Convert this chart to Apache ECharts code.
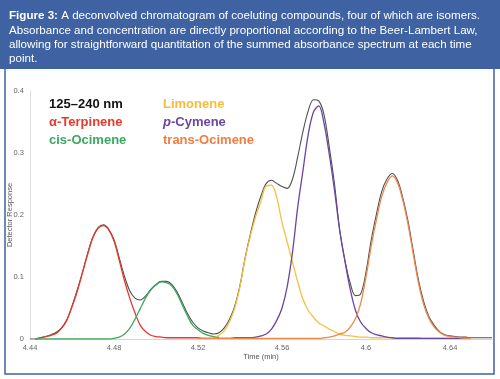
<!DOCTYPE html>
<html>
<head>
<meta charset="utf-8">
<script src="https://cdn.jsdelivr.net/npm/echarts@6/dist/echarts.min.js"></script>
<style>
html,body{margin:0;padding:0;background:#fff;}
#c{width:500px;height:379px;}
</style>
</head>
<body>
<div id="c"></div>
<script>
// Time grid (min)
const times = [4.44,4.4425,4.445,4.4475,4.45,4.4525,4.455,4.4575,4.46,4.4625,4.465,4.4675,4.47,4.4725,4.475,4.4775,4.48,4.4825,4.485,4.4875,4.49,4.4925,4.495,4.4975,4.5,4.5025,4.505,4.5075,4.51,4.5125,4.515,4.5175,4.52,4.5225,4.525,4.5275,4.53,4.5325,4.535,4.5375,4.54,4.5425,4.545,4.5475,4.55,4.5525,4.555,4.5575,4.56,4.5625,4.565,4.5675,4.57,4.5725,4.575,4.5775,4.58,4.5825,4.585,4.5875,4.59,4.5925,4.595,4.5975,4.6,4.6025,4.605,4.6075,4.61,4.6125,4.615,4.6175,4.62,4.6225,4.625,4.6275,4.63,4.6325,4.635,4.6375,4.64,4.6425,4.645,4.6475,4.65,4.6525,4.655,4.6575,4.66];

// Summed signal 125–240 nm
const total = [0.000,0.000,0.002,0.004,0.007,0.011,0.018,0.031,0.053,0.079,0.108,0.139,0.165,0.180,0.184,0.177,0.160,0.131,0.101,0.078,0.066,0.063,0.069,0.080,0.088,0.093,0.093,0.088,0.076,0.059,0.041,0.027,0.018,0.013,0.010,0.008,0.010,0.018,0.032,0.053,0.087,0.132,0.170,0.204,0.231,0.251,0.256,0.251,0.246,0.243,0.258,0.294,0.335,0.368,0.386,0.384,0.362,0.310,0.250,0.175,0.126,0.090,0.070,0.073,0.108,0.160,0.202,0.238,0.258,0.267,0.256,0.228,0.190,0.142,0.095,0.060,0.036,0.022,0.012,0.007,0.005,0.004,0.003,0.003,0.002,0.002,0.002,0.002,0.002];

// alpha-Terpinene (starts at index 1)
const terpineneStart = 1;
const terpinene = [0.000,0.002,0.004,0.006,0.009,0.017,0.030,0.052,0.077,0.107,0.137,0.164,0.179,0.183,0.176,0.158,0.127,0.094,0.066,0.042,0.022,0.012,0.006,0.004,0.003,0.002,0.002,0.002,0.002,0.002,0.002,0.002,0.001,0.001,0.001,0.001];

// cis-Ocimene (starts at index 1)
const cisOcimeneStart = 1;
const cisOcimene = [0.000,0.000,0.000,0.000,0.000,0.000,0.000,0.000,0.000,0.000,0.000,0.000,0.000,0.000,0.000,0.001,0.003,0.008,0.017,0.032,0.049,0.066,0.079,0.087,0.092,0.091,0.086,0.073,0.055,0.037,0.022,0.015,0.009,0.006,0.004,0.003];

// Limonene (starts at index 35)
const limoneneStart = 35;
const limonene = [0.002,0.006,0.013,0.028,0.050,0.085,0.130,0.167,0.198,0.222,0.247,0.248,0.228,0.188,0.156,0.124,0.092,0.064,0.046,0.035,0.026,0.021,0.016,0.012,0.008,0.006,0.005,0.004,0.003,0.003,0.002,0.002,0.002,0.002,0.002,0.002,0.002,0.002,0.002,0.002,0.001,0.001,0.001,0.001,0.001,0.001,0.001,0.001,0.001,0.001];

// p-Cymene (starts at index 35)
const cymeneStart = 35;
const cymene = [0.001,0.001,0.001,0.001,0.002,0.002,0.002,0.002,0.003,0.005,0.008,0.016,0.030,0.050,0.085,0.140,0.213,0.272,0.330,0.366,0.376,0.348,0.298,0.240,0.175,0.125,0.080,0.046,0.027,0.017,0.010,0.007,0.005,0.003,0.002,0.001,0.001,0.001,0.001,0.001,0.001,0.001,0.001,0.001,0.001,0.001,0.001,0.001,0.001,0.001];

// trans-Ocimene (starts at index 32)
const transOcimeneStart = 32;
const transOcimene = [0.001,0.001,0.001,0.001,0.001,0.001,0.001,0.001,0.001,0.001,0.001,0.001,0.001,0.001,0.001,0.001,0.001,0.001,0.001,0.001,0.001,0.001,0.001,0.001,0.002,0.003,0.005,0.008,0.011,0.019,0.033,0.058,0.100,0.150,0.193,0.230,0.252,0.263,0.252,0.224,0.185,0.137,0.090,0.055,0.033,0.019,0.011,0.006,0.004,0.003,0.002,0.001,0.001];

const xTicks = [4.44, 4.48, 4.52, 4.56, 4.6, 4.64];
const yTicks = [0, 0.1, 0.2, 0.3, 0.4];

const legendItems = [
  {name: '125–240 nm', color: '#111111'},
  {name: 'α-Terpinene', color: '#e8392b'},
  {name: 'cis-Ocimene', color: '#3aaa5e'},
  {name: 'Limonene', color: '#f5bd3c'},
  {name: 'p-Cymene', color: '#6b45a3'},
  {name: 'trans-Ocimene', color: '#f07d42'}
];

function pairs(vals, start) {
  return vals.map((v, k) => [times[start + k], v]);
}

const chart = echarts.init(document.getElementById('c'), null, {renderer: 'canvas'});

function lineSeries(name, data, color, width) {
  return {
    name: name, type: 'line', data: data, showSymbol: false, smooth: 0.35,
    lineStyle: {color: color, width: width}, itemStyle: {color: color},
    animation: false, silent: true, z: 2
  };
}

const FONT = 'Liberation Sans, Arial, sans-serif';

chart.setOption({
  animation: false,
  backgroundColor: '#ffffff',
  grid: {left: 30, right: 8, top: 91, bottom: 40, containLabel: false, outerBoundsMode: 'none'},
  xAxis: {
    type: 'value', min: 4.44, max: 4.66, interval: 0.04,
    name: 'Time (min)', nameLocation: 'middle', nameGap: 14, nameMoveOverlap: false,
    nameTextStyle: {fontSize: 7.5, color: '#555', fontFamily: FONT},
    axisLine: {lineStyle: {color: '#d4d4d4', width: 1}},
    axisTick: {show: false},
    splitLine: {show: false},
    axisLabel: {
      fontSize: 7.5, color: '#666', fontFamily: FONT, margin: 5, showMaxLabel: false,
      formatter: function (v) { return xTicks.some(t => Math.abs(t - v) < 1e-6) ? String(+v.toFixed(2)) : ''; }
    }
  },
  yAxis: {
    type: 'value', min: 0, max: 0.4, interval: 0.1,
    name: 'Detector Response', nameLocation: 'middle', nameGap: 16, nameMoveOverlap: false,
    nameTextStyle: {fontSize: 7.5, color: '#555', fontFamily: FONT},
    axisLine: {show: true, lineStyle: {color: '#dcdcdc', width: 1}},
    axisTick: {show: false},
    splitLine: {show: false},
    axisLabel: {
      fontSize: 7.5, color: '#666', fontFamily: FONT, margin: 6,
      formatter: function (v) { return yTicks.some(t => Math.abs(t - v) < 1e-6) ? String(+v.toFixed(1)) : ''; }
    }
  },
  series: [
    lineSeries('125–240 nm', pairs(total, 0), '#505050', 1.1),
    lineSeries('α-Terpinene', pairs(terpinene, terpineneStart), '#e8392b', 1.3),
    lineSeries('cis-Ocimene', pairs(cisOcimene, cisOcimeneStart), '#3aaa5e', 1.3),
    lineSeries('Limonene', pairs(limonene, limoneneStart), '#f5c13f', 1.3),
    lineSeries('p-Cymene', pairs(cymene, cymeneStart), '#6b45a3', 1.3),
    lineSeries('trans-Ocimene', pairs(transOcimene, transOcimeneStart), '#f2874a', 1.3)
  ],
  graphic: [
    {type: 'rect', shape: {x: 0, y: 0, width: 500, height: 69}, style: {fill: '#3e62a2'}, silent: true, z: 0},
    {type: 'rect', shape: {x: 5, y: 68, width: 489, height: 306}, style: {fill: 'none', stroke: '#3e62a2', lineWidth: 1.5}, silent: true, z: 0},
    {
      type: 'text', left: 9, top: 9, silent: true, z: 10,
      style: {
        text: '{b|Figure 3:} A deconvolved chromatogram of coeluting compounds, four of which are isomers.\nAbsorbance and concentration are directly proportional according to the Beer-Lambert Law,\nallowing for straightforward quantitation of the summed absorbance spectrum at each time\npoint.',
        fill: '#ffffff', fontSize: 11.6, fontFamily: FONT, lineHeight: 14.3,
        rich: {b: {fontWeight: 'bold', fill: '#ffffff', fontSize: 11.6, fontFamily: FONT, lineHeight: 14.3}}
      }
    },
    {type: 'text', left: 49, top: 98, silent: true, z: 10, style: {text: legendItems[0].name, fill: legendItems[0].color, fontSize: 13, fontWeight: 'bold', fontFamily: FONT}},
    {type: 'text', left: 49, top: 116, silent: true, z: 10, style: {text: legendItems[1].name, fill: legendItems[1].color, fontSize: 13, fontWeight: 'bold', fontFamily: FONT}},
    {type: 'text', left: 49, top: 134, silent: true, z: 10, style: {text: legendItems[2].name, fill: legendItems[2].color, fontSize: 13, fontWeight: 'bold', fontFamily: FONT}},
    {type: 'text', left: 163, top: 98, silent: true, z: 10, style: {text: legendItems[3].name, fill: legendItems[3].color, fontSize: 13, fontWeight: 'bold', fontFamily: FONT}},
    {type: 'text', left: 163, top: 116, silent: true, z: 10, style: {
      text: '{i|p}-Cymene', fill: legendItems[4].color, fontSize: 13, fontWeight: 'bold', fontFamily: FONT,
      rich: {i: {fontStyle: 'italic', fontWeight: 'bold', fontSize: 13, fill: legendItems[4].color, fontFamily: FONT}}
    }},
    {type: 'text', left: 163, top: 134, silent: true, z: 10, style: {text: legendItems[5].name, fill: legendItems[5].color, fontSize: 13, fontWeight: 'bold', fontFamily: FONT}}
  ]
});
</script>
</body>
</html>
